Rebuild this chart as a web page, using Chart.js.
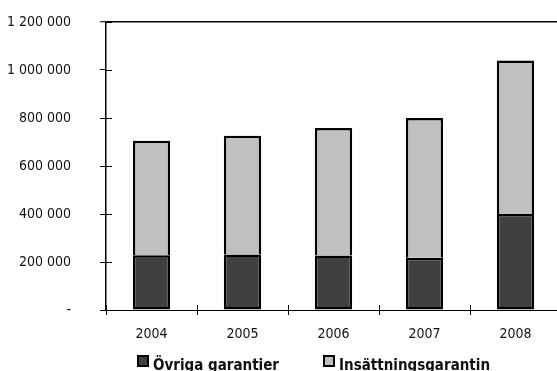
<!DOCTYPE html>
<html>
<head>
<meta charset="utf-8">
<script src="https://cdn.jsdelivr.net/npm/chart.js@4.4.1/dist/chart.umd.min.js"></script>
<style>
  html, body { margin: 0; padding: 0; background: #fff; overflow: hidden; }
  #wrap { width: 557px; height: 371px; overflow: hidden; position: relative; }
  canvas { display: block; }
</style>
</head>
<body>
<div id="wrap"><canvas id="chart" width="562" height="380"></canvas></div>
<script>
// Garantier per år (kr)
const years = ['2004', '2005', '2006', '2007', '2008'];
const ovrigaGarantier = [228000, 231000, 227000, 218000, 400000];
const insattningsgarantin = [477000, 495000, 531000, 582000, 640000];
const yTickValues = [0, 200000, 400000, 600000, 800000, 1000000, 1200000];
const yTickLabels = ['-', '200 000', '400 000', '600 000', '800 000', '1 000 000', '1 200 000'];
const seriesNames = ['Övriga garantier', 'Insättningsgarantin'];

const FONT = "'DejaVu Sans Condensed', 'Liberation Sans Narrow', sans-serif";
const INK = '#111';

// Tick marks that cross the axis lines (the inner half; the outer half comes from the scale)
const crossTicks = {
  id: 'crossTicks',
  afterDraw(chart) {
    const { ctx, chartArea, scales } = chart;
    ctx.save();
    ctx.strokeStyle = '#000';
    ctx.lineWidth = 1;
    ctx.beginPath();
    scales.y.ticks.forEach(t => {
      const py = Math.round(scales.y.getPixelForValue(t.value)) + 0.5;
      ctx.moveTo(chartArea.left, py);
      ctx.lineTo(chartArea.left + 6, py);
    });
    const n = years.length;
    for (let i = 0; i <= n; i++) {
      const px = Math.round(chartArea.left + i * (chartArea.width / n)) + 0.5;
      ctx.moveTo(px, chartArea.bottom - 5);
      ctx.lineTo(px, chartArea.bottom);
    }
    ctx.stroke();
    ctx.restore();
  }
};

// Legend row under the year labels
const legendRow = {
  id: 'legendRow',
  afterDraw(chart) {
    const { ctx, chartArea } = chart;
    const boxTop = chartArea.bottom + 45;
    const baseline = chartArea.bottom + 60;
    const starts = [chartArea.left + 31, chartArea.left + 217];
    ctx.save();
    ctx.font = 'bold 15px ' + FONT;
    ctx.textBaseline = 'alphabetic';
    ctx.textAlign = 'left';
    chart.data.datasets.forEach((ds, i) => {
      const x = starts[i];
      ctx.fillStyle = ds.backgroundColor;
      ctx.fillRect(x, boxTop, 12, 12);
      ctx.strokeStyle = '#000';
      ctx.lineWidth = 2;
      ctx.strokeRect(x + 1, boxTop + 1, 10, 10);
      ctx.fillStyle = INK;
      ctx.fillText(ds.label, x + 16, baseline);
    });
    ctx.restore();
  }
};

new Chart(document.getElementById('chart'), {
  type: 'bar',
  data: {
    labels: years,
    datasets: [
      {
        label: seriesNames[0],
        data: ovrigaGarantier,
        backgroundColor: '#404040',
        borderColor: '#000',
        borderWidth: 2.5,
        borderSkipped: false,
        categoryPercentage: 1,
        barPercentage: 0.41
      },
      {
        label: seriesNames[1],
        data: insattningsgarantin,
        backgroundColor: '#c0c0c0',
        borderColor: '#000',
        borderWidth: 2.5,
        borderSkipped: 'bottom',
        categoryPercentage: 1,
        barPercentage: 0.41
      }
    ]
  },
  options: {
    responsive: false,
    animation: false,
    devicePixelRatio: 1,
    layout: { padding: { top: 22, right: 1, left: 0, bottom: 40 } },
    plugins: {
      legend: { display: false },
      tooltip: { enabled: false }
    },
    scales: {
      x: {
        stacked: true,
        afterFit: s => { s.height = 30; s.paddingLeft = 0; s.paddingRight = 0; },
        ticks: { padding: 11, color: INK, font: { family: FONT, size: 14 } },
        grid: { offset: true, color: 'rgba(0,0,0,0)', tickColor: '#000', tickLength: 5 },
        border: { color: '#000', width: 1 }
      },
      y: {
        stacked: true,
        min: 0,
        max: 1200000,
        afterBuildTicks: s => { s.ticks = yTickValues.map(v => ({ value: v })); },
        afterFit: s => { s.width = 106; s.paddingTop = 0; s.paddingBottom = 0; },
        ticks: {
          padding: 29,
          color: INK,
          font: { family: FONT, size: 14 },
          callback: (v, i) => yTickLabels[i]
        },
        grid: {
          color: c => (c.tick && c.tick.value === 1200000 ? '#000' : 'rgba(0,0,0,0)'),
          lineWidth: c => (c.tick && c.tick.value === 1200000 ? 1.5 : 1),
          tickColor: '#000',
          tickWidth: 1,
          tickLength: 6
        },
        border: { color: '#000', width: 1.5 }
      }
    }
  },
  plugins: [crossTicks, legendRow]
});
</script>
</body>
</html>
